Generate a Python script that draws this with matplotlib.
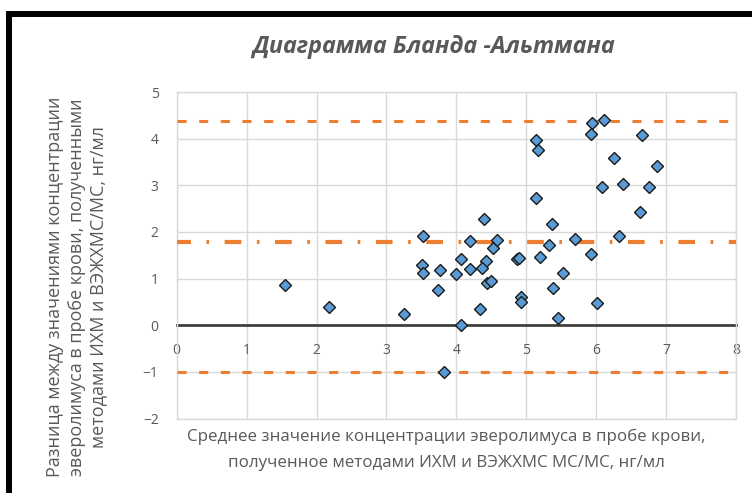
import matplotlib
matplotlib.use("Agg")
import matplotlib.pyplot as plt
from matplotlib.patches import Rectangle

# Bland-Altman data: mean of two methods (x) and their difference (y), ng/ml
mean_values = [
    1.55, 2.18, 3.25, 3.52, 3.51, 3.52, 3.77, 3.74, 3.99, 4.07,
    4.19, 4.19, 4.07, 3.82, 4.39, 4.42, 4.36, 4.44, 4.50, 4.52,
    4.58, 4.34, 4.87, 4.89, 4.93, 4.93, 5.14, 5.17, 5.14, 5.20,
    5.37, 5.33, 5.38, 5.45, 5.52, 5.69, 5.94, 5.92, 6.11, 5.93,
    6.01, 6.09, 6.25, 6.38, 6.32, 6.66, 6.87, 6.75, 6.63,
]
diff_values = [
    0.86, 0.39, 0.23, 1.91, 1.29, 1.12, 1.18, 0.75, 1.10, 1.42,
    1.20, 1.80, 0.00, -1.00, 2.28, 1.37, 1.22, 0.91, 0.94, 1.66,
    1.82, 0.34, 1.41, 1.44, 0.61, 0.49, 3.98, 3.75, 2.73, 1.47,
    2.18, 1.73, 0.80, 0.16, 1.12, 1.84, 4.33, 4.09, 4.41, 1.52,
    0.47, 2.96, 3.59, 3.02, 1.92, 4.07, 3.41, 2.96, 2.43,
]

mean_diff = 1.78
upper_loa = 4.38
lower_loa = -1.00

x_ticks = [0, 1, 2, 3, 4, 5, 6, 7, 8]
y_ticks = [-2, -1, 0, 1, 2, 3, 4, 5]

title_text = "Диаграмма Бланда -Альтмана"
xlabel_text = ("Среднее значение концентрации эверолимуса в пробе крови,\n"
               "полученное методами ИХМ и ВЭЖХМС МС/МС, нг/мл")
ylabel_text = ("Разница между значениями концентрации\n"
               "эверолимуса в пробе крови, полученными\n"
               "методами ИХМ и ВЭЖХМС/МС, нг/мл")

plt.rcParams["font.family"] = ["Open Sans", "DejaVu Sans"]
plt.rcParams["lines.scale_dashes"] = False

GRAY_TEXT = "#595959"
GRID = "#D9D9D9"
ORANGE = "#ED7D31"
BLUE = "#5B9BD5"

W, H = 752, 497
fig = plt.figure(figsize=(W / 100, H / 100), dpi=100)

# frame around the chart (top and left edges)
fig.add_artist(Rectangle((6 / W, 1 - 17 / H), (W - 6) / W, 6 / H,
                         transform=fig.transFigure, color="black", lw=0))
fig.add_artist(Rectangle((6 / W, 1 - 493 / H), 6 / W, (493 - 11) / H,
                         transform=fig.transFigure, color="black", lw=0))

left, right = 176.7 / W, 736 / W
bottom, top = 1 - 418.5 / H, 1 - 92 / H
ax = fig.add_axes([left, bottom, right - left, top - bottom])

ax.set_xlim(x_ticks[0], x_ticks[-1])
ax.set_ylim(y_ticks[0], y_ticks[-1])
ax.set_xticks(x_ticks)
ax.set_yticks(y_ticks)

ax.grid(True, color=GRID, lw=1, zorder=0)
ax.set_axisbelow(True)
for side in ("left", "right", "top"):
    ax.spines[side].set_color(GRID)
    ax.spines[side].set_linewidth(1)
ax.axhline(y_ticks[0], color=GRID, lw=1, clip_on=False, zorder=0)

# horizontal axis crossing at zero
ax.spines["bottom"].set_position(("data", 0))
ax.spines["bottom"].set_color("#404040")
ax.spines["bottom"].set_linewidth(2)
ax.spines["bottom"].set_zorder(2)

ax.tick_params(axis="both", length=0, colors=GRAY_TEXT, labelsize=10)
ax.tick_params(axis="x", pad=13)
ax.tick_params(axis="y", pad=13)

# limits of agreement and mean difference
ax.axhline(upper_loa, color=ORANGE, lw=2.2, ls=(0, (6.5, 9.1)), zorder=3)
ax.axhline(lower_loa, color=ORANGE, lw=2.2, ls=(0, (6.5, 9.1)), zorder=3)
ax.axhline(mean_diff, color=ORANGE, lw=3, ls=(2, (12, 11.2, 1.9, 11.2)),
           zorder=3)

ax.plot(mean_values, diff_values, ls="none", marker="D", ms=6.5,
        mfc=BLUE, mec="#1A1A1A", mew=1.0, zorder=5, clip_on=False)

fig.text(434 / W, 1 - 47 / H, title_text, ha="center", va="center",
         fontsize=16.8, fontweight="bold", fontstyle="italic",
         color=GRAY_TEXT)
fig.text(446 / W, 1 - 450 / H, xlabel_text, ha="center", va="center",
         multialignment="center", fontsize=12.2, color=GRAY_TEXT,
         linespacing=1.85)
fig.text(77 / W, 1 - 287 / H, ylabel_text, ha="center", va="center",
         rotation=90, multialignment="center", fontsize=13,
         color=GRAY_TEXT, linespacing=1.25)

fig.savefig("out.png", dpi=100)
